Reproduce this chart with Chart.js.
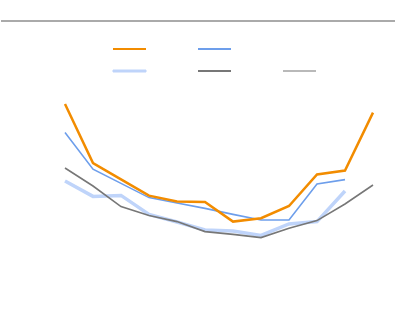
<!DOCTYPE html>
<html>
<head>
<meta charset="utf-8">
<script src="https://cdn.jsdelivr.net/npm/chart.js@4/dist/chart.umd.min.js"></script>
<style>
  html, body { margin: 0; background: #fff; }
  canvas { display: block; }
</style>
</head>
<body>
<canvas id="chart" width="400" height="326"></canvas>
<script>
/* ===== Five-series line chart, blank legend labels, no axes ===== */
const steps = [1, 2, 3, 4, 5, 6, 7, 8, 9, 10, 11, 12];

const seriesA = [91.5, 62, 53.8, 45.7, 42.8, 42.5, 32.7, 34.4, 40.5, 56.3, 58.2, 87.2];
const seriesB = [77.2, 58.9, 51.8, 44.7, 42, 39.3, 36.3, 33.5, 33.5, 51.5, 53.7, null];
const seriesC = [];
const seriesD = [53, 45.3, 45.8, 36.3, 32.5, 28.5, 28, 25.8, 31.5, 32.7, 48, null];
const seriesE = [59.5, 50.5, 40.2, 35.7, 32.7, 27.7, 26.3, 24.7, 29.4, 33.2, 41.5, 51];
const seriesF = [];

// thin grey rule across the top of the picture
const topRule = {
  id: "topRule",
  beforeDraw(chart) {
    const c = chart.ctx;
    c.save();
    c.strokeStyle = "#aaa";
    c.lineWidth = 2;
    c.beginPath();
    c.moveTo(1, 21);
    c.lineTo(395, 21);
    c.stroke();
    c.restore();
  },
};

// lower `order` is painted on top: orange over blue, dark grey over light blue
const line = (order, data, color, width, legendStroke = 0) => ({
  data, borderColor: color, backgroundColor: color, borderWidth: width,
  pointRadius: 0, tension: 0, clip: 8, order, legendStroke,
});

new Chart(document.getElementById("chart"), {
  type: "line",
  data: {
    labels: steps,
    datasets: [
      line(0, seriesA, "#f28c00", 2.5),
      line(1, seriesB, "#6d9eeb", 1.6),
      line(5, seriesC, "rgba(0,0,0,0)", 1.6),
      line(3, seriesD, "#bfd4fa", 3.5, 1),
      line(2, seriesE, "#777777", 1.6),
      line(4, seriesF, "#b9b9b9", 1.6),
    ],
  },
  options: {
    responsive: false,
    animation: false,
    layout: { padding: { top: 33, left: 65, right: 32, bottom: 39 } },
    plugins: {
      tooltip: { enabled: false },
      legend: {
        position: "top",
        align: "end",
        labels: {
          boxWidth: 33, boxHeight: 2, padding: 10,
          color: "rgba(0,0,0,0)",
          font: { family: "DejaVu Sans", size: 12 },
          generateLabels: (chart) => chart.data.datasets.map((ds, i) => ({
            text: "\u2003\u2003\u2003",
            fillStyle: ds.borderColor, strokeStyle: ds.borderColor,
            lineWidth: ds.legendStroke, hidden: false, datasetIndex: i,
          })),
        },
      },
    },
    scales: {
      x: { type: "linear", display: false, min: 1, max: 1 + 303 / 28 },
      y: { display: false, min: 0, max: 100 },
    },
  },
  plugins: [topRule],
});
</script>
</body>
</html>
